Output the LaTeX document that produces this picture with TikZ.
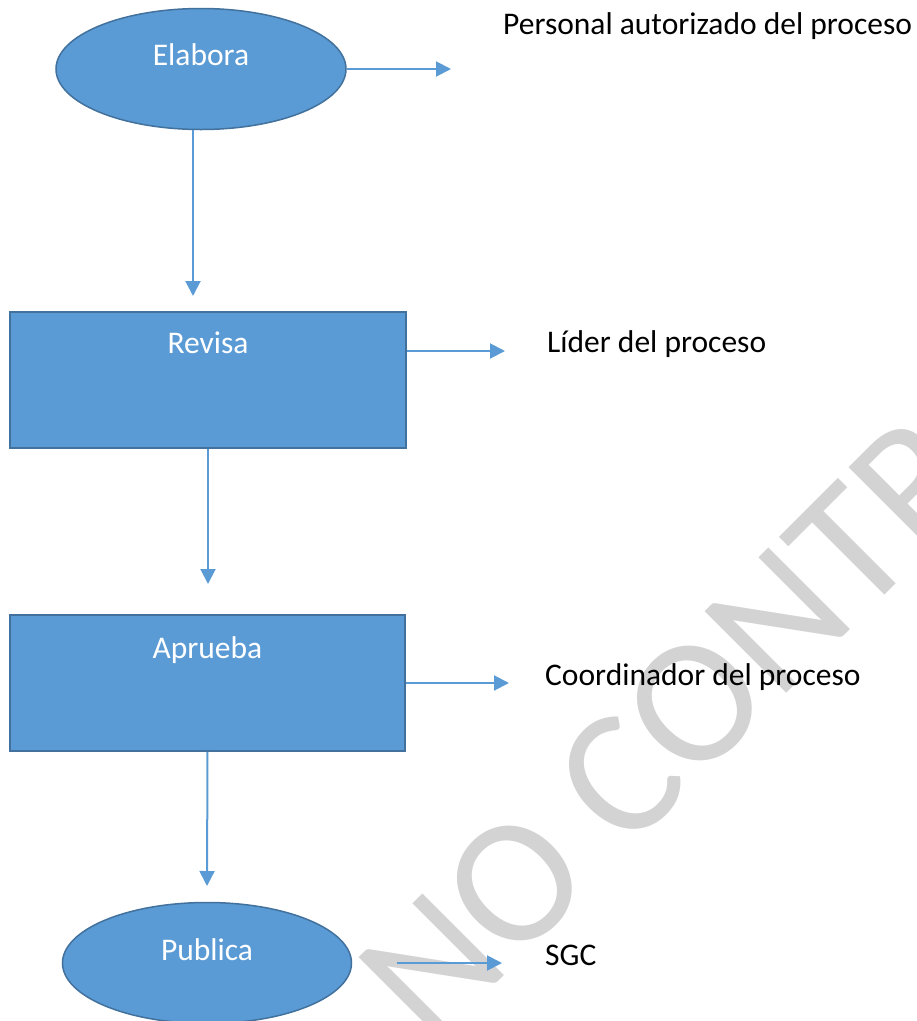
\documentclass[tikz,border=0pt]{standalone}
\usepackage{fontspec}
\setmainfont{Carlito}
\usepackage{xcolor}
\usepackage{tikz}
\usetikzlibrary{shapes}
\usetikzlibrary{arrows.meta}
\definecolor{officeblue}{RGB}{91,155,213}
\definecolor{officeline}{RGB}{65,113,156}
\definecolor{marca}{RGB}{211,211,211}
\tikzset{
	main node/.style={ellipse,draw=officeline,fill=officeblue,line width=1.5pt,text=white,
		inner sep=0pt,minimum width=290pt,minimum height=121pt,text height=20pt,
		font=\fontsize{31.5}{38}\selectfont},
	box node/.style={rectangle,draw=officeline,fill=officeblue,line width=1.5pt,text=white,
		inner sep=0pt,minimum width=396pt,minimum height=136pt,text height=20pt,
		font=\fontsize{31.5}{38}\selectfont},
	side text/.style={anchor=base west,inner sep=0pt,font=\fontsize{31.5}{38}\selectfont},
	wm text/.style={anchor=base west,inner sep=0pt,text=marca,font=\fontsize{180}{216}\selectfont},
	flow/.style={draw=officeblue,line width=2pt}
}

\begin{document}
\begin{tikzpicture}[x=1pt,y=-1pt,->,>={Triangle[length=15pt,width=15pt]}]
	\path[use as bounding box,clip] (0,0) rectangle (917,1021);
	% marca de agua
	\node [wm text,rotate=45] (0) at (431,1049) {NO CONTROLADA};

	\node [main node,text depth=28pt] (1) at (201,69) {Elabora};
	\node [box node,text depth=74pt] (2) at (208,380) {Revisa};
	\node [box node,minimum width=395pt,text depth=70pt] (3) at (207.5,683) {Aprueba};
	\node [main node,minimum width=289pt,text depth=26pt] (4) at (207,963) {Publica};

	\node [side text] (5) at (503,34) {Personal autorizado del proceso};
	\node [side text] (6) at (547,352) {Líder del proceso};
	\node [side text] (7) at (545,685) {Coordinador del proceso};
	\node [side text] (8) at (545,965) {SGC};

	\coordinate (a1) at (451,69);
	\coordinate (a2) at (505,351);
	\coordinate (a3) at (509,683);
	\coordinate (a4) at (502,963);
	\coordinate (b1) at (193,296);
	\coordinate (b2) at (208,584);
	\coordinate (b3) at (207,886);

	\draw [flow] (1.east) -- (a1);
	\draw [flow] ([xshift=-8pt]1.south) -- (b1);
	\draw [flow] (2.east |- a2) -- (a2);
	\draw [flow] (2.south) -- (b2);
	\draw [flow] (3.east) -- (a3);
	\draw [flow] (3.south) -- (b3);
	\draw [flow] ([xshift=45pt]4.east) -- (a4);
	%\draw [flow] (4.south) -- ++(0,40);
\end{tikzpicture}
\end{document}
